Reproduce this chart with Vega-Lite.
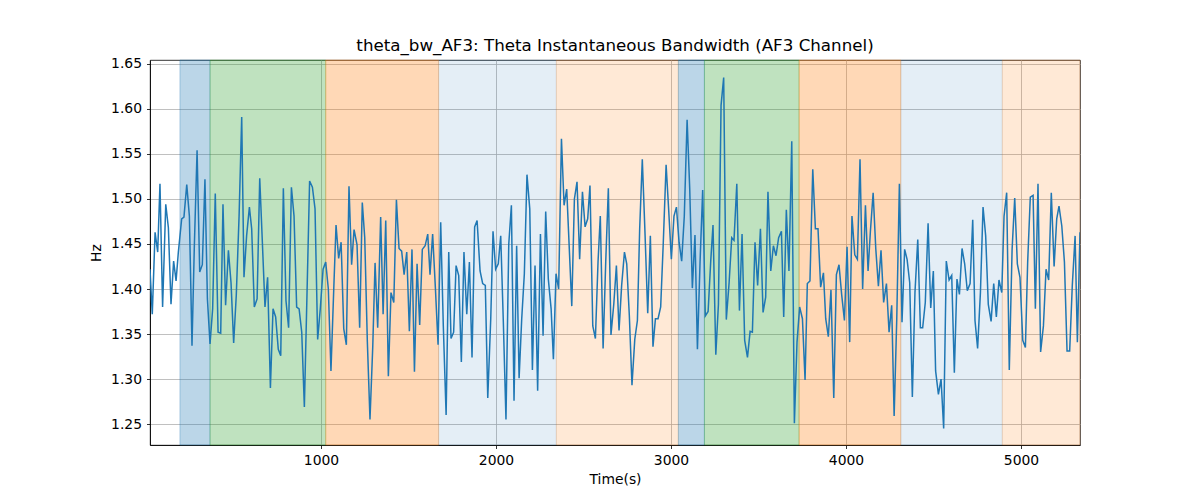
{
  "$schema": "https://vega.github.io/schema/vega-lite/v6.json",
  "width": 930,
  "height": 385,
  "autosize": {"type": "none"},
  "padding": {"left": 150, "top": 60, "right": 120, "bottom": 55},
  "background": "white",
  "title": {
    "text": "theta_bw_AF3: Theta Instantaneous Bandwidth (AF3 Channel)",
    "font": "DejaVu Sans",
    "fontSize": 16.7,
    "fontWeight": "normal",
    "color": "black",
    "offset": 2
  },
  "datasets": {
    "bands": [
      {"start": 194, "end": 366, "kind": "a"},
      {"start": 366, "end": 1027, "kind": "b"},
      {"start": 1027, "end": 1672, "kind": "c"},
      {"start": 1672, "end": 2345, "kind": "d"},
      {"start": 2345, "end": 3042, "kind": "e"},
      {"start": 3042, "end": 3191, "kind": "a"},
      {"start": 3191, "end": 3732, "kind": "b"},
      {"start": 3732, "end": 4313, "kind": "c"},
      {"start": 4313, "end": 4893, "kind": "d"},
      {"start": 4893, "end": 5337, "kind": "e"}
    ],
    "signal": [
      {"t": 23, "v": 1.422}, {"t": 36, "v": 1.372}, {"t": 52, "v": 1.463}, {"t": 67, "v": 1.441},
      {"t": 80, "v": 1.517}, {"t": 95, "v": 1.38}, {"t": 113, "v": 1.494}, {"t": 128, "v": 1.468},
      {"t": 143, "v": 1.383}, {"t": 158, "v": 1.431}, {"t": 172, "v": 1.409}, {"t": 185, "v": 1.441},
      {"t": 204, "v": 1.478}, {"t": 217, "v": 1.48}, {"t": 233, "v": 1.516}, {"t": 248, "v": 1.481},
      {"t": 263, "v": 1.337}, {"t": 276, "v": 1.445}, {"t": 292, "v": 1.554}, {"t": 307, "v": 1.419},
      {"t": 322, "v": 1.427}, {"t": 337, "v": 1.522}, {"t": 351, "v": 1.389}, {"t": 366, "v": 1.339},
      {"t": 381, "v": 1.378}, {"t": 396, "v": 1.506}, {"t": 412, "v": 1.352}, {"t": 427, "v": 1.351},
      {"t": 440, "v": 1.494}, {"t": 455, "v": 1.382}, {"t": 471, "v": 1.443}, {"t": 486, "v": 1.407},
      {"t": 501, "v": 1.34}, {"t": 516, "v": 1.393}, {"t": 532, "v": 1.481}, {"t": 547, "v": 1.591},
      {"t": 560, "v": 1.413}, {"t": 575, "v": 1.459}, {"t": 591, "v": 1.491}, {"t": 604, "v": 1.467},
      {"t": 619, "v": 1.38}, {"t": 635, "v": 1.389}, {"t": 650, "v": 1.523}, {"t": 665, "v": 1.452},
      {"t": 680, "v": 1.38}, {"t": 695, "v": 1.413}, {"t": 711, "v": 1.29}, {"t": 726, "v": 1.378},
      {"t": 741, "v": 1.369}, {"t": 756, "v": 1.333}, {"t": 770, "v": 1.326}, {"t": 785, "v": 1.512},
      {"t": 800, "v": 1.387}, {"t": 815, "v": 1.357}, {"t": 831, "v": 1.513}, {"t": 846, "v": 1.481},
      {"t": 861, "v": 1.38}, {"t": 875, "v": 1.378}, {"t": 890, "v": 1.352}, {"t": 905, "v": 1.269},
      {"t": 920, "v": 1.394}, {"t": 935, "v": 1.52}, {"t": 951, "v": 1.513}, {"t": 966, "v": 1.489},
      {"t": 981, "v": 1.344}, {"t": 996, "v": 1.378}, {"t": 1012, "v": 1.422}, {"t": 1027, "v": 1.43},
      {"t": 1042, "v": 1.4}, {"t": 1057, "v": 1.309}, {"t": 1073, "v": 1.4}, {"t": 1086, "v": 1.471},
      {"t": 1101, "v": 1.434}, {"t": 1115, "v": 1.452}, {"t": 1130, "v": 1.356}, {"t": 1145, "v": 1.338},
      {"t": 1160, "v": 1.514}, {"t": 1175, "v": 1.427}, {"t": 1189, "v": 1.466}, {"t": 1206, "v": 1.449},
      {"t": 1221, "v": 1.357}, {"t": 1236, "v": 1.496}, {"t": 1250, "v": 1.457}, {"t": 1265, "v": 1.341},
      {"t": 1280, "v": 1.255}, {"t": 1296, "v": 1.337}, {"t": 1309, "v": 1.429}, {"t": 1324, "v": 1.357},
      {"t": 1341, "v": 1.48}, {"t": 1355, "v": 1.372}, {"t": 1370, "v": 1.476}, {"t": 1385, "v": 1.303},
      {"t": 1400, "v": 1.396}, {"t": 1416, "v": 1.385}, {"t": 1431, "v": 1.499}, {"t": 1446, "v": 1.445},
      {"t": 1461, "v": 1.442}, {"t": 1475, "v": 1.416}, {"t": 1490, "v": 1.441}, {"t": 1505, "v": 1.353},
      {"t": 1520, "v": 1.444}, {"t": 1534, "v": 1.308}, {"t": 1549, "v": 1.428}, {"t": 1564, "v": 1.36},
      {"t": 1579, "v": 1.444}, {"t": 1595, "v": 1.448}, {"t": 1610, "v": 1.461}, {"t": 1623, "v": 1.416},
      {"t": 1638, "v": 1.461}, {"t": 1654, "v": 1.4}, {"t": 1669, "v": 1.338}, {"t": 1684, "v": 1.474},
      {"t": 1699, "v": 1.359}, {"t": 1715, "v": 1.26}, {"t": 1730, "v": 1.441}, {"t": 1743, "v": 1.345},
      {"t": 1758, "v": 1.352}, {"t": 1772, "v": 1.426}, {"t": 1787, "v": 1.415}, {"t": 1802, "v": 1.319},
      {"t": 1817, "v": 1.441}, {"t": 1833, "v": 1.372}, {"t": 1848, "v": 1.43}, {"t": 1863, "v": 1.324},
      {"t": 1878, "v": 1.469}, {"t": 1892, "v": 1.476}, {"t": 1909, "v": 1.42}, {"t": 1924, "v": 1.406},
      {"t": 1939, "v": 1.404}, {"t": 1953, "v": 1.279}, {"t": 1970, "v": 1.367}, {"t": 1983, "v": 1.464},
      {"t": 1998, "v": 1.422}, {"t": 2013, "v": 1.428}, {"t": 2027, "v": 1.459}, {"t": 2042, "v": 1.363},
      {"t": 2057, "v": 1.255}, {"t": 2073, "v": 1.45}, {"t": 2088, "v": 1.493}, {"t": 2103, "v": 1.276},
      {"t": 2118, "v": 1.448}, {"t": 2132, "v": 1.301}, {"t": 2147, "v": 1.367}, {"t": 2162, "v": 1.417},
      {"t": 2177, "v": 1.527}, {"t": 2193, "v": 1.489}, {"t": 2208, "v": 1.31}, {"t": 2223, "v": 1.426},
      {"t": 2238, "v": 1.287}, {"t": 2254, "v": 1.461}, {"t": 2269, "v": 1.348}, {"t": 2284, "v": 1.486},
      {"t": 2299, "v": 1.411}, {"t": 2315, "v": 1.378}, {"t": 2328, "v": 1.322}, {"t": 2343, "v": 1.417},
      {"t": 2358, "v": 1.4}, {"t": 2374, "v": 1.567}, {"t": 2389, "v": 1.493}, {"t": 2404, "v": 1.511},
      {"t": 2419, "v": 1.444}, {"t": 2433, "v": 1.381}, {"t": 2448, "v": 1.5}, {"t": 2463, "v": 1.519},
      {"t": 2478, "v": 1.433}, {"t": 2494, "v": 1.508}, {"t": 2509, "v": 1.469}, {"t": 2524, "v": 1.478},
      {"t": 2537, "v": 1.515}, {"t": 2553, "v": 1.359}, {"t": 2568, "v": 1.345}, {"t": 2583, "v": 1.43},
      {"t": 2596, "v": 1.481}, {"t": 2612, "v": 1.334}, {"t": 2627, "v": 1.43}, {"t": 2642, "v": 1.512},
      {"t": 2657, "v": 1.349}, {"t": 2673, "v": 1.383}, {"t": 2688, "v": 1.426}, {"t": 2703, "v": 1.354},
      {"t": 2718, "v": 1.404}, {"t": 2734, "v": 1.441}, {"t": 2747, "v": 1.428}, {"t": 2762, "v": 1.37},
      {"t": 2777, "v": 1.293}, {"t": 2793, "v": 1.344}, {"t": 2808, "v": 1.365}, {"t": 2821, "v": 1.467},
      {"t": 2836, "v": 1.544}, {"t": 2852, "v": 1.459}, {"t": 2867, "v": 1.373}, {"t": 2882, "v": 1.459},
      {"t": 2897, "v": 1.336}, {"t": 2911, "v": 1.367}, {"t": 2926, "v": 1.367}, {"t": 2941, "v": 1.38},
      {"t": 2956, "v": 1.452}, {"t": 2972, "v": 1.538}, {"t": 2987, "v": 1.487}, {"t": 3002, "v": 1.433},
      {"t": 3017, "v": 1.481}, {"t": 3031, "v": 1.491}, {"t": 3046, "v": 1.452}, {"t": 3061, "v": 1.431},
      {"t": 3076, "v": 1.481}, {"t": 3092, "v": 1.588}, {"t": 3107, "v": 1.511}, {"t": 3122, "v": 1.401},
      {"t": 3137, "v": 1.46}, {"t": 3151, "v": 1.333}, {"t": 3166, "v": 1.43}, {"t": 3181, "v": 1.51},
      {"t": 3196, "v": 1.37}, {"t": 3212, "v": 1.375}, {"t": 3227, "v": 1.431}, {"t": 3240, "v": 1.471},
      {"t": 3256, "v": 1.327}, {"t": 3271, "v": 1.383}, {"t": 3286, "v": 1.604}, {"t": 3301, "v": 1.635},
      {"t": 3316, "v": 1.366}, {"t": 3332, "v": 1.407}, {"t": 3347, "v": 1.457}, {"t": 3360, "v": 1.454},
      {"t": 3376, "v": 1.517}, {"t": 3391, "v": 1.376}, {"t": 3406, "v": 1.461}, {"t": 3421, "v": 1.343},
      {"t": 3437, "v": 1.324}, {"t": 3452, "v": 1.353}, {"t": 3465, "v": 1.352}, {"t": 3480, "v": 1.452},
      {"t": 3495, "v": 1.404}, {"t": 3511, "v": 1.467}, {"t": 3526, "v": 1.374}, {"t": 3541, "v": 1.391},
      {"t": 3554, "v": 1.508}, {"t": 3570, "v": 1.42}, {"t": 3585, "v": 1.448}, {"t": 3600, "v": 1.437},
      {"t": 3615, "v": 1.457}, {"t": 3631, "v": 1.464}, {"t": 3644, "v": 1.369}, {"t": 3659, "v": 1.488},
      {"t": 3674, "v": 1.42}, {"t": 3690, "v": 1.564}, {"t": 3705, "v": 1.251}, {"t": 3720, "v": 1.341},
      {"t": 3735, "v": 1.38}, {"t": 3751, "v": 1.367}, {"t": 3766, "v": 1.299}, {"t": 3779, "v": 1.406},
      {"t": 3794, "v": 1.409}, {"t": 3810, "v": 1.533}, {"t": 3825, "v": 1.467}, {"t": 3840, "v": 1.467},
      {"t": 3855, "v": 1.402}, {"t": 3871, "v": 1.418}, {"t": 3884, "v": 1.367}, {"t": 3899, "v": 1.347},
      {"t": 3914, "v": 1.399}, {"t": 3930, "v": 1.279}, {"t": 3945, "v": 1.416}, {"t": 3960, "v": 1.427},
      {"t": 3975, "v": 1.394}, {"t": 3991, "v": 1.365}, {"t": 4006, "v": 1.447}, {"t": 4021, "v": 1.341},
      {"t": 4034, "v": 1.481}, {"t": 4050, "v": 1.438}, {"t": 4065, "v": 1.433}, {"t": 4080, "v": 1.544},
      {"t": 4095, "v": 1.4}, {"t": 4111, "v": 1.493}, {"t": 4126, "v": 1.42}, {"t": 4139, "v": 1.463},
      {"t": 4155, "v": 1.507}, {"t": 4170, "v": 1.445}, {"t": 4185, "v": 1.403}, {"t": 4200, "v": 1.443},
      {"t": 4215, "v": 1.385}, {"t": 4231, "v": 1.406}, {"t": 4246, "v": 1.352}, {"t": 4261, "v": 1.382},
      {"t": 4275, "v": 1.259}, {"t": 4290, "v": 1.367}, {"t": 4305, "v": 1.517}, {"t": 4320, "v": 1.363},
      {"t": 4335, "v": 1.444}, {"t": 4349, "v": 1.433}, {"t": 4364, "v": 1.407}, {"t": 4379, "v": 1.28},
      {"t": 4394, "v": 1.396}, {"t": 4410, "v": 1.455}, {"t": 4425, "v": 1.357}, {"t": 4438, "v": 1.357},
      {"t": 4453, "v": 1.385}, {"t": 4469, "v": 1.473}, {"t": 4484, "v": 1.379}, {"t": 4499, "v": 1.42},
      {"t": 4512, "v": 1.309}, {"t": 4528, "v": 1.283}, {"t": 4543, "v": 1.3}, {"t": 4558, "v": 1.245},
      {"t": 4573, "v": 1.431}, {"t": 4589, "v": 1.41}, {"t": 4604, "v": 1.415}, {"t": 4619, "v": 1.307},
      {"t": 4634, "v": 1.411}, {"t": 4648, "v": 1.394}, {"t": 4663, "v": 1.445}, {"t": 4678, "v": 1.428},
      {"t": 4693, "v": 1.398}, {"t": 4709, "v": 1.406}, {"t": 4724, "v": 1.477}, {"t": 4737, "v": 1.365},
      {"t": 4752, "v": 1.334}, {"t": 4768, "v": 1.396}, {"t": 4783, "v": 1.491}, {"t": 4798, "v": 1.459},
      {"t": 4813, "v": 1.383}, {"t": 4829, "v": 1.364}, {"t": 4844, "v": 1.406}, {"t": 4859, "v": 1.369},
      {"t": 4874, "v": 1.41}, {"t": 4890, "v": 1.396}, {"t": 4903, "v": 1.481}, {"t": 4918, "v": 1.507},
      {"t": 4933, "v": 1.31}, {"t": 4949, "v": 1.444}, {"t": 4964, "v": 1.501}, {"t": 4979, "v": 1.428},
      {"t": 4994, "v": 1.413}, {"t": 5010, "v": 1.343}, {"t": 5025, "v": 1.335}, {"t": 5038, "v": 1.43},
      {"t": 5053, "v": 1.502}, {"t": 5069, "v": 1.504}, {"t": 5082, "v": 1.378}, {"t": 5097, "v": 1.517},
      {"t": 5112, "v": 1.33}, {"t": 5128, "v": 1.359}, {"t": 5143, "v": 1.422}, {"t": 5158, "v": 1.41},
      {"t": 5173, "v": 1.507}, {"t": 5189, "v": 1.425}, {"t": 5204, "v": 1.478}, {"t": 5217, "v": 1.492},
      {"t": 5233, "v": 1.47}, {"t": 5248, "v": 1.43}, {"t": 5263, "v": 1.331}, {"t": 5278, "v": 1.331},
      {"t": 5293, "v": 1.404}, {"t": 5309, "v": 1.459}, {"t": 5322, "v": 1.341}, {"t": 5337, "v": 1.463}
    ]
  },
  "layer": [
    {
      "data": {"name": "bands"},
      "mark": {"type": "rect", "strokeWidth": 1},
      "encoding": {
        "x": {
          "field": "start",
          "type": "quantitative",
          "scale": {"domain": [23, 5337], "nice": false, "zero": false},
          "axis": {
            "title": "Time(s)",
            "values": [1000, 2000, 3000, 4000, 5000],
            "format": "d",
            "labelPadding": 5,
            "titlePadding": 5
          }
        },
        "x2": {"field": "end"},
        "color": {
          "field": "kind",
          "type": "nominal",
          "legend": null,
          "scale": {
            "domain": ["a", "b", "c", "d", "e"],
            "range": [
              "rgba(31,119,180,0.3)",
              "rgba(44,160,44,0.3)",
              "rgba(255,127,14,0.3)",
              "rgba(31,119,180,0.12)",
              "rgba(255,127,14,0.17)"
            ]
          }
        },
        "stroke": {
          "field": "kind",
          "type": "nominal",
          "legend": null,
          "scale": {
            "domain": ["a", "b", "c", "d", "e"],
            "range": [
              "rgba(31,119,180,0.3)",
              "rgba(44,160,44,0.3)",
              "rgba(255,127,14,0.3)",
              "rgba(31,119,180,0.12)",
              "rgba(255,127,14,0.17)"
            ]
          }
        }
      }
    },
    {
      "data": {"name": "signal"},
      "mark": {"type": "line", "color": "#1f77b4", "strokeWidth": 1.5, "clip": true},
      "encoding": {
        "x": {
          "field": "t",
          "type": "quantitative",
          "scale": {"domain": [23, 5337], "nice": false, "zero": false}
        },
        "y": {
          "field": "v",
          "type": "quantitative",
          "scale": {"domain": [1.2267, 1.6544], "nice": false, "zero": false},
          "axis": {
            "title": "Hz",
            "values": [1.25, 1.3, 1.35, 1.4, 1.45, 1.5, 1.55, 1.6, 1.65],
            "format": ".2f",
            "labelPadding": 5,
            "titlePadding": 7
          }
        }
      }
    }
  ],
  "config": {
    "view": {"stroke": "black", "strokeWidth": 0.8},
    "axis": {
      "labelFont": "DejaVu Sans",
      "labelFontSize": 13.9,
      "labelColor": "black",
      "labelFlush": false,
      "titleFont": "DejaVu Sans",
      "titleFontSize": 13.9,
      "titleFontWeight": "normal",
      "titleColor": "black",
      "tickColor": "black",
      "tickSize": 3.5,
      "tickWidth": 0.8,
      "domainColor": "black",
      "domainWidth": 0.8,
      "grid": true,
      "gridColor": "#b0b0b0",
      "gridWidth": 0.8
    }
  }
}
